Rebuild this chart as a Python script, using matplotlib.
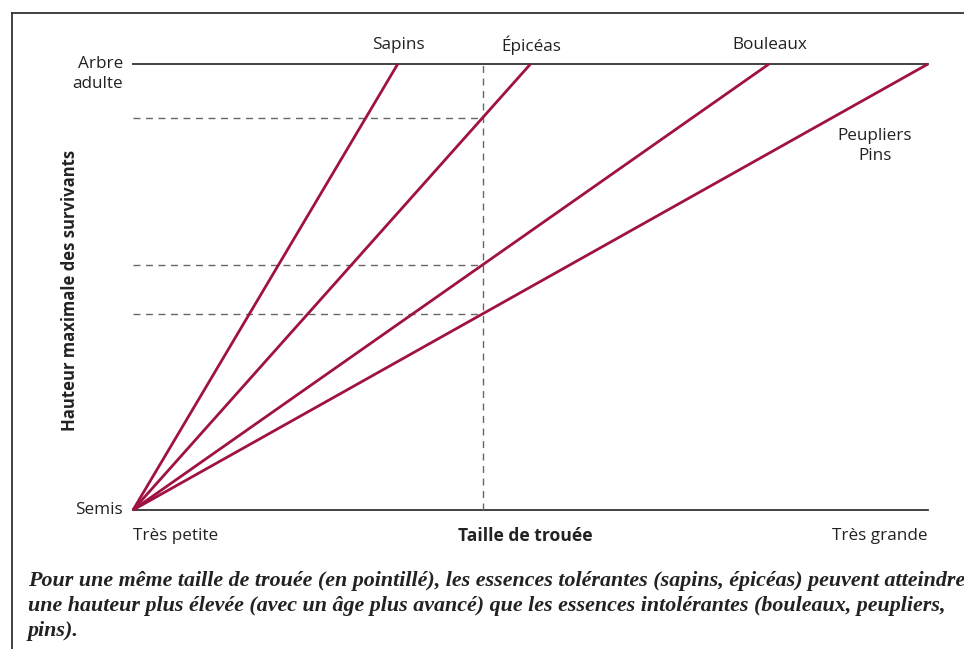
import numpy as np
import matplotlib.pyplot as plt
from matplotlib.lines import Line2D

# gap size (x) vs max height of survivors (y), both on a 0..1 scale
species = ['Sapins', 'Épicéas', 'Bouleaux', 'Peupliers\nPins']
x_at_adult = [0.333, 0.5, 0.8, 1.0]   # gap size where each line reaches "Arbre adulte"
gap_size = 0.44                        # dashed vertical gap
y_ticks = ['Semis', 'Arbre\nadulte']
x_ticks = ['Très petite', 'Taille de trouée', 'Très grande']
caption = ("Pour une même taille de trouée (en pointillé), les essences tolérantes (sapins, épicéas) peuvent atteindre\n"
           "une hauteur plus élevée (avec un âge plus avancé) que les essences intolérantes (bouleaux, peupliers,\n"
           "pins).")

red = '#a01240'
dark = '#333333'
txt = '#222222'
W, H = 964, 649
fs = 12.3

plt.rcParams['font.family'] = ['Open Sans', 'DejaVu Sans']
fig = plt.figure(figsize=(W / 100, H / 100), dpi=100)

# open frame (top and left only, the rest is cut off)
fig.add_artist(Line2D([12 / W, 12 / W], [0, 1 - 13 / H], color=dark, lw=1.3))
fig.add_artist(Line2D([12 / W, 1], [1 - 13 / H, 1 - 13 / H], color=dark, lw=1.3))

ax = fig.add_axes([133 / W, (H - 510) / H, 795 / W, 446 / H])
ax.set_xlim(0, 1)
ax.set_ylim(0, 1)
ax.axis('off')

ax.plot([0, 1], [1, 1], color=dark, lw=1.3, clip_on=False)
ax.plot([0, 1], [0, 0], color=dark, lw=1.3, clip_on=False)

# dashed gap line and the heights reached by each species at that gap
ax.plot([gap_size, gap_size], [0, 1], color='#666666', lw=1, ls=(0, (5, 4)), clip_on=False)
for xe in x_at_adult[1:]:
    yh = gap_size / xe
    ax.plot([0, gap_size], [yh, yh], color='#666666', lw=1, ls=(0, (5, 4)), clip_on=False)

for name, xe in zip(species, x_at_adult):
    ax.plot([0, xe], [0, 1], color=red, lw=2, clip_on=False, solid_capstyle='butt')
    if '\n' in name:
        ax.annotate(name, (xe, 1), xytext=(-53, -82), textcoords='offset pixels',
                    ha='center', va='center', fontsize=fs, color=txt, linespacing=1.4)
    else:
        ax.annotate(name, (xe, 1), xytext=(1, 19), textcoords='offset pixels',
                    ha='center', va='center', fontsize=fs, color=txt)

ax.annotate(y_ticks[0], (0, 0), xytext=(-10, 0), textcoords='offset pixels',
            ha='right', va='center', fontsize=fs, color=txt)
ax.annotate(y_ticks[1], (0, 1), xytext=(-10, -10), textcoords='offset pixels',
            ha='right', va='center', fontsize=fs, color=txt, linespacing=1.4)

ax.annotate(x_ticks[0], (0, 0), xytext=(0, -26), textcoords='offset pixels',
            ha='left', va='center', fontsize=fs, color=txt)
ax.annotate(x_ticks[1], (0.5, 0), xytext=(-5, -26), textcoords='offset pixels',
            ha='center', va='center', fontsize=12.6, color=txt, fontweight='bold')
ax.annotate(x_ticks[2], (1, 0), xytext=(0, -26), textcoords='offset pixels',
            ha='right', va='center', fontsize=fs, color=txt)

fig.text(70 / W, 1 - 290 / H, 'Hauteur maximale des survivants', rotation=90,
         ha='center', va='center', fontsize=12, fontweight='bold', color=txt)

fig.text(28 / W, 1 - 571 / H, caption, ha='left', va='top', fontsize=15.85,
         family='Liberation Serif', style='italic', fontweight='bold', color=txt,
         linespacing=1.32)

fig.savefig('out.png', dpi=100)
